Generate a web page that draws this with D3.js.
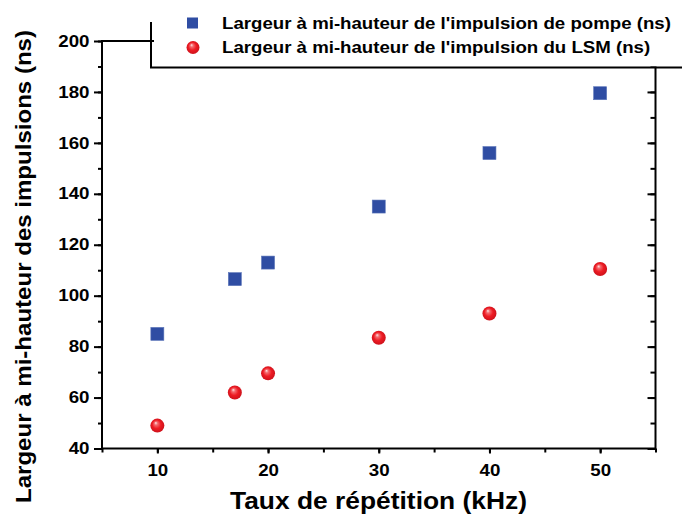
<!DOCTYPE html>
<html><head><meta charset="utf-8">
<script src="https://cdn.jsdelivr.net/npm/d3@7"></script>
<style>
html,body{margin:0;padding:0;background:#fff;}
text{font-family:"Liberation Sans",Arial,sans-serif;font-weight:bold;fill:#000;}
</style></head>
<body>
<svg id="c" width="682" height="516"></svg>
<script>
const repRate = [10, 17, 20, 30, 40, 50];
const pumpWidth = [85, 106.5, 113, 135, 156, 179.5];
const lsmWidth = [49, 62, 69.5, 83.5, 93, 110.5];
const xTicks = [10, 20, 30, 40, 50];
const yTicks = [40, 60, 80, 100, 120, 140, 160, 180, 200];
const seriesNames = ["Largeur à mi-hauteur de l'impulsion de pompe (ns)", "Largeur à mi-hauteur de l'impulsion du LSM (ns)"];
const xTitle = "Taux de répétition (kHz)";
const yTitle = "Largeur à mi-hauteur des impulsions (ns)";

const svg = d3.select("#c");
const L = 102, R = 655.5, T = 41, B = 448.5;
const x = d3.scaleLinear().domain([5, 55]).range([L, R]);
const y = d3.scaleLinear().domain([40, 200]).range([B, T]);
const STRETCH = 1.17;
const stretchText = (sel, k) => sel.each(function() {
  const len = this.getComputedTextLength();
  d3.select(this).attr("textLength", len * (k || STRETCH)).attr("lengthAdjust", "spacingAndGlyphs");
});

const defs = svg.append("defs");
const rg = defs.append("radialGradient").attr("id", "ball").attr("cx", "50%").attr("cy", "50%").attr("r", "55%").attr("fx", "38%").attr("fy", "30%");
rg.append("stop").attr("offset", "0%").attr("stop-color", "#ffe8e8");
rg.append("stop").attr("offset", "22%").attr("stop-color", "#f46a6e");
rg.append("stop").attr("offset", "55%").attr("stop-color", "#ee1c24");
rg.append("stop").attr("offset", "100%").attr("stop-color", "#c8101a");

const minorX = d3.range(5, 56, 5);
const minorY = d3.range(40, 201, 10);
const axStyle = g => { g.select(".domain").remove(); g.selectAll("line").attr("stroke", "#000").attr("stroke-width", 2); };
const lblStyle = g => g.selectAll("text").style("font-size", "16px").style("font-family", "Liberation Sans, Arial, sans-serif").style("font-weight", "bold").attr("fill", "#000").call(stretchText);

// bottom
svg.append("g").attr("transform", `translate(0,${B})`)
  .call(d3.axisBottom(x).tickValues(minorX).tickSize(4).tickFormat(""))
  .call(axStyle);
svg.append("g").attr("transform", `translate(0,${B})`)
  .call(d3.axisBottom(x).tickValues(xTicks).tickSize(5).tickPadding(11).tickFormat(d3.format("d")))
  .call(axStyle).call(lblStyle);
// left
svg.append("g").attr("transform", `translate(${L},0)`)
  .call(d3.axisLeft(y).tickValues(minorY).tickSize(4).tickFormat(""))
  .call(axStyle);
svg.append("g").attr("transform", `translate(${L},0)`)
  .call(d3.axisLeft(y).tickValues(yTicks).tickSize(8).tickPadding(4.5).tickFormat(d3.format("d")))
  .call(axStyle).call(lblStyle);
// right (inward)
svg.append("g").attr("transform", `translate(${R},0)`)
  .call(d3.axisLeft(y).tickValues(minorY).tickSize(5).tickFormat(""))
  .call(axStyle);
svg.append("g").attr("transform", `translate(${R},0)`)
  .call(d3.axisLeft(y).tickValues(yTicks).tickSize(8).tickFormat(""))
  .call(axStyle);

// frame
svg.append("rect").attr("x", L).attr("y", T).attr("width", R - L).attr("height", B - T)
  .attr("fill", "none").attr("stroke", "#000").attr("stroke-width", 2);

// legend box covering top-right
const lgX = 151, lgY = 67.5;
svg.append("rect").attr("x", lgX + 1).attr("y", 0).attr("width", 682 - lgX).attr("height", lgY - 1).attr("fill", "#fff");
svg.append("line").attr("x1", lgX).attr("x2", lgX).attr("y1", 22).attr("y2", lgY).attr("stroke", "#000").attr("stroke-width", 2);
svg.append("line").attr("x1", lgX - 1).attr("x2", 682).attr("y1", lgY).attr("y2", lgY).attr("stroke", "#000").attr("stroke-width", 2);
svg.append("line").attr("x1", lgX).attr("x2", 154).attr("y1", T).attr("y2", T).attr("stroke", "#000").attr("stroke-width", 2);

// legend entries
const lg = svg.append("g");
lg.append("rect").attr("x", 187).attr("y", 17.5).attr("width", 11).attr("height", 11).attr("fill", "#2f4da3");
lg.append("circle").attr("cx", 193).attr("cy", 47.5).attr("r", 6.5).attr("fill", "url(#ball)");
seriesNames.forEach((s, i) => {
  lg.append("text").attr("x", 222).attr("y", 28.5 + i * 24.5).style("font-size", "16.5px").text(s).call(stretchText, 1.13);
});

// data
svg.append("g").selectAll("rect").data(repRate).join("rect")
  .attr("x", (d) => x(d) - 6.5).attr("y", (d, i) => y(pumpWidth[i]) - 6.5)
  .attr("width", 13).attr("height", 13).attr("fill", "#2f4da3").attr("stroke", "#5a74b8").attr("stroke-width", 0.6);
svg.append("g").selectAll("circle").data(repRate).join("circle")
  .attr("cx", d => x(d)).attr("cy", (d, i) => y(lsmWidth[i])).attr("r", 7).attr("fill", "url(#ball)");

// titles
svg.append("text").attr("x", 378.5).attr("y", 509).attr("text-anchor", "middle")
  .style("font-size", "24.5px").attr("textLength", 297).attr("lengthAdjust", "spacingAndGlyphs").text(xTitle);
svg.append("text").attr("transform", "translate(31,266.5) rotate(-90)").attr("text-anchor", "middle")
  .style("font-size", "22.5px").attr("textLength", 473).attr("lengthAdjust", "spacingAndGlyphs").text(yTitle);
</script>
</body></html>
